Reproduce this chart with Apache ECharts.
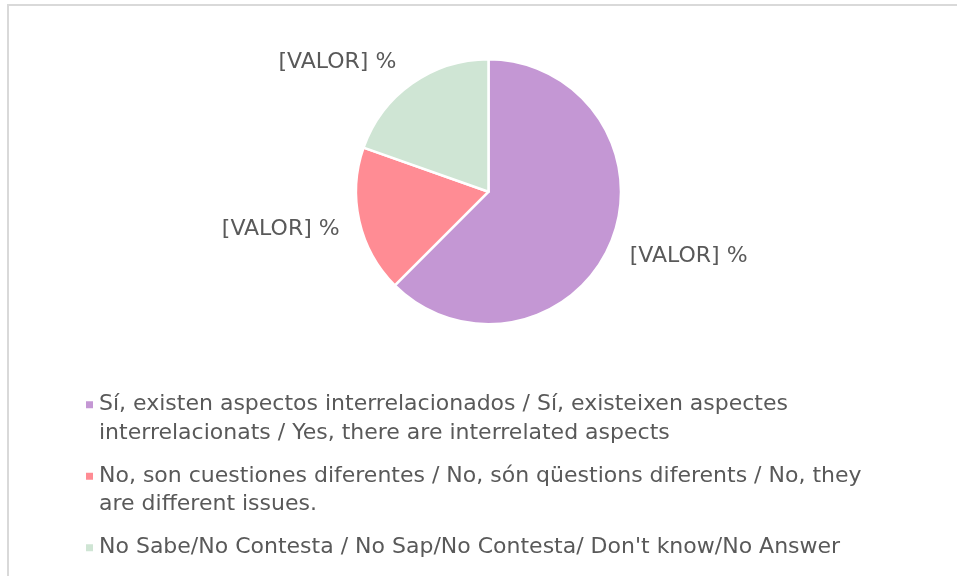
<!DOCTYPE html>
<html>
<head>
<meta charset="utf-8">
<script src="https://cdn.jsdelivr.net/npm/echarts@6/dist/echarts.min.js"></script>
<style>
html,body{margin:0;padding:0;background:#fff;}
#wrap{position:relative;width:957px;height:576px;overflow:hidden;background:#fff;}
#frame{position:absolute;left:7px;top:4px;width:1200px;height:1200px;border-left:2px solid #d9d9d9;border-top:2px solid #d9d9d9;pointer-events:none;}
#chart{position:absolute;left:0;top:0;width:957px;height:576px;}
</style>
</head>
<body>
<div id="wrap"><div id="chart"></div><div id="frame"></div></div>
<script>
// Data
const categories = [
  "Sí, existen aspectos interrelacionados / Sí, existeixen aspectes interrelacionats / Yes, there are interrelated aspects",
  "No, son cuestiones diferentes / No, són qüestions diferents / No, they are different issues.",
  "No Sabe/No Contesta / No Sap/No Contesta/ Don't know/No Answer"
];
const legendLines = [
  ["Sí, existen aspectos interrelacionados / Sí, existeixen aspectes", "interrelacionats / Yes, there are interrelated aspects"],
  ["No, son cuestiones diferentes / No, són qüestions diferents / No, they", "are different issues."],
  ["No Sabe/No Contesta / No Sap/No Contesta/ Don't know/No Answer"]
];
const values = [62.5, 17.9, 19.6];
const labelText = ["[VALOR] %", "[VALOR] %", "[VALOR] %"];
const colors = ["#C497D4", "#FF8C94", "#CFE5D4"];

// label nudges (style)
const labelShift = [[0, 8], [0, 5], [-2, -9]];

const FONT = "DejaVu Sans";
const chart = echarts.init(document.getElementById('chart'), null, {renderer: 'canvas'});

const data = categories.map((c, i) => ({
  name: c,
  value: values[i],
  itemStyle: {color: colors[i]}
}));

// keep the icon beside the first line: pad the text block so its middle line is the first line
function legendText(i) {
  const lines = legendLines[i];
  if (lines.length === 1) return ' \n' + lines[0] + '\n ';
  return ' \n' + lines.join('\n');
}

chart.setOption({
  animation: false,
  backgroundColor: 'transparent',
  legend: {
    orient: 'vertical',
    left: 84,
    top: 362,
    padding: 0,
    height: 300,
    itemWidth: 9,
    itemHeight: 9,
    itemGap: -14,
    icon: 'rect',
    data: categories,
    formatter: function (name) { return legendText(categories.indexOf(name)); },
    textStyle: {fontFamily: FONT, fontSize: 22, color: '#595959', lineHeight: 28.5},
    selectedMode: false
  },
  series: [{
    type: 'pie',
    center: [488.5, 191.7],
    radius: [0, 132.5],
    startAngle: 90,
    clockwise: true,
    itemStyle: {borderColor: '#fff', borderWidth: 2.5},
    label: {
      show: true,
      position: 'outside',
      formatter: function (p) { return labelText[p.dataIndex]; },
      fontFamily: FONT,
      fontSize: 22,
      color: '#595959'
    },
    labelLine: {show: false, length: 15, length2: 0},
    labelLayout: function (p) {
      return {dx: labelShift[p.dataIndex][0], dy: labelShift[p.dataIndex][1]};
    },
    emphasis: {disabled: true},
    data: data
  }]
});
</script>
</body>
</html>
